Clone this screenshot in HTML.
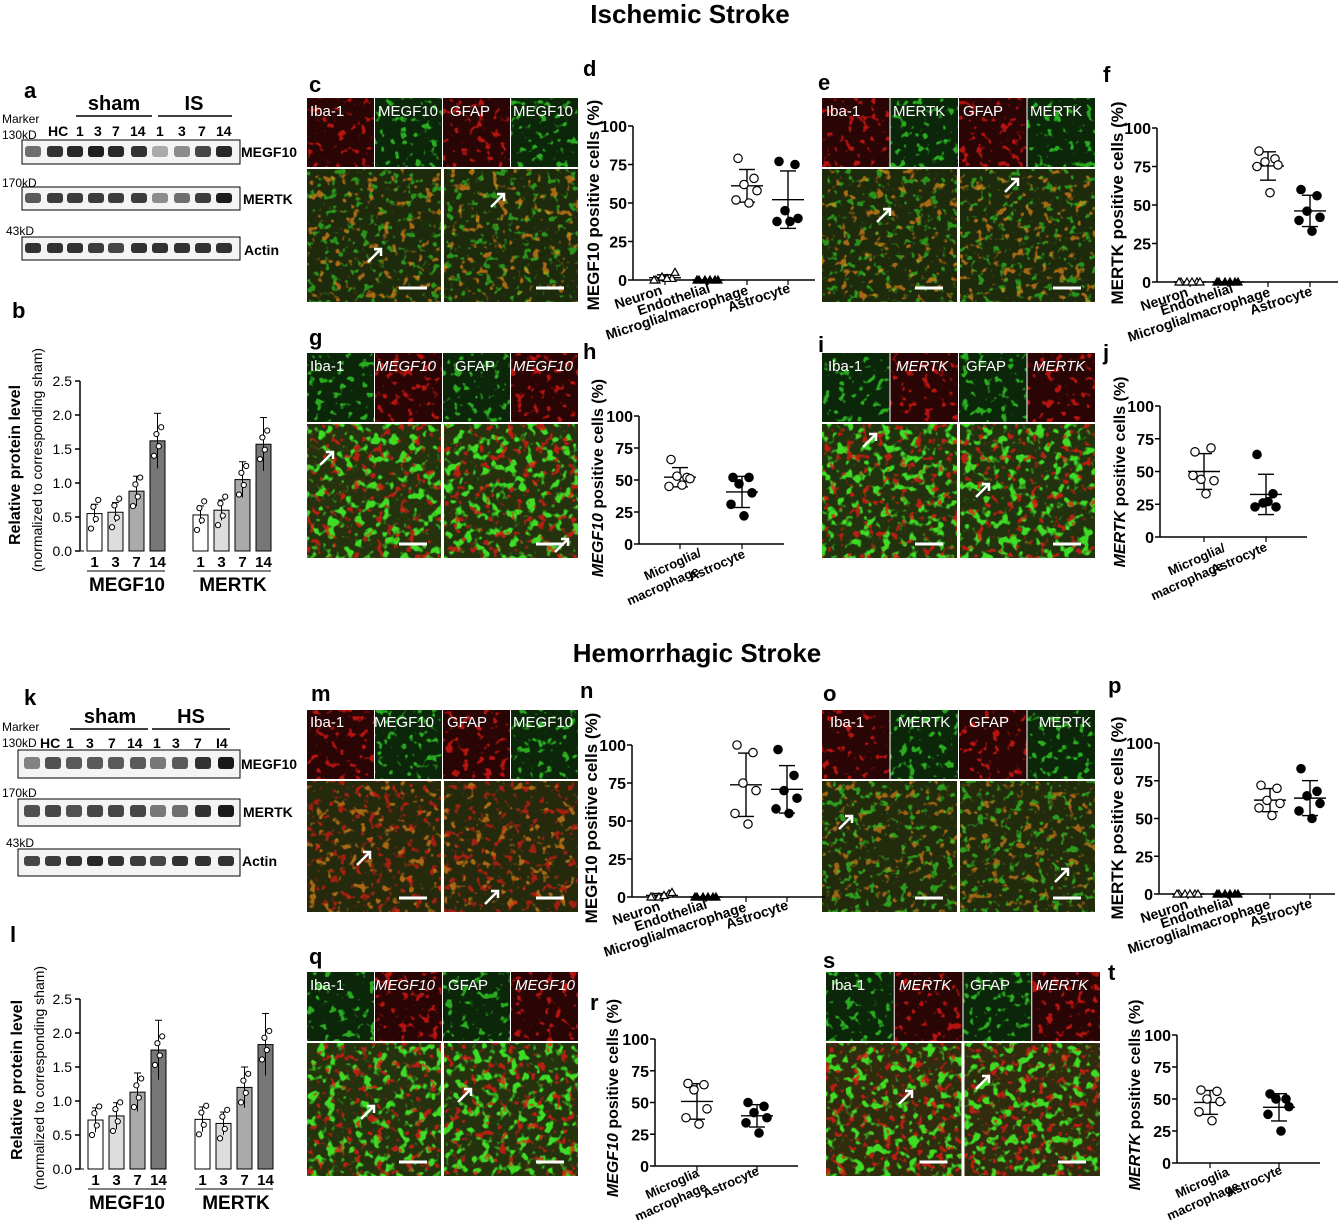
<!DOCTYPE html>
<html><head><meta charset="utf-8">
<style>
html,body{margin:0;padding:0;background:#fff;}
svg{display:block;font-family:"Liberation Sans",Arial,sans-serif;}
.t{font-weight:bold;font-size:26px;}
.L{font-weight:bold;font-size:22px;}
.lab{font-size:16px;font-weight:bold;}
.cat{font-size:14px;font-weight:bold;}
.cat2{font-size:13px;font-weight:bold;}
.sm{font-size:12px;}
.bl{font-size:14px;font-weight:bold;}
.img{font-size:15px;fill:#fff;}
</style></head><body>
<svg id="s" width="1341" height="1220" viewBox="0 0 1341 1220" xmlns="http://www.w3.org/2000/svg">
<defs>
<filter id="nR" x="0" y="0" width="100%" height="100%" color-interpolation-filters="sRGB"><feTurbulence type="fractalNoise" baseFrequency="0.13" numOctaves="2" seed="3"/><feColorMatrix values="0 0 0 0 0.9  0 0 0 0 0.1  0 0 0 0 0.08  0 0 0 9 -5.4"/></filter>
<filter id="nG" x="0" y="0" width="100%" height="100%" color-interpolation-filters="sRGB"><feTurbulence type="fractalNoise" baseFrequency="0.13" numOctaves="2" seed="7"/><feColorMatrix values="0 0 0 0 0.2  0 0 0 0 0.85  0 0 0 0 0.15  0 0 0 9 -5.4"/></filter>
<filter id="nGd" x="0" y="0" width="100%" height="100%" color-interpolation-filters="sRGB"><feTurbulence type="fractalNoise" baseFrequency="0.11" numOctaves="2" seed="5"/><feColorMatrix values="0 0 0 0 0.25  0 0 0 0 0.9  0 0 0 0 0.15  0 0 0 8 -4.3"/></filter>
<filter id="nY" x="0" y="0" width="100%" height="100%" color-interpolation-filters="sRGB"><feTurbulence type="fractalNoise" baseFrequency="0.12" numOctaves="2" seed="11"/><feColorMatrix values="0 0 0 0 0.95  0 0 0 0 0.55  0 0 0 0 0.1  0 0 0 9 -5.5"/></filter>
</defs>

<text class="t" x="690" y="23" text-anchor="middle">Ischemic Stroke</text>
<text class="t" x="697" y="662" text-anchor="middle">Hemorrhagic Stroke</text>

<g class="L">
<text x="24" y="98">a</text><text x="12" y="318">b</text><text x="309" y="92">c</text>
<text x="583" y="76">d</text><text x="818" y="90">e</text><text x="1103" y="82">f</text>
<text x="309" y="345">g</text><text x="583" y="359">h</text><text x="818" y="352">i</text>
<text x="1103" y="360">j</text><text x="24" y="705">k</text><text x="10" y="942">l</text>
<text x="311" y="701">m</text><text x="580" y="698">n</text><text x="823" y="701">o</text>
<text x="1108" y="693">p</text><text x="309" y="964">q</text><text x="590" y="1010">r</text>
<text x="823" y="968">s</text><text x="1108" y="980">t</text>
</g>

<g>
<text class="bl" x="114" y="110" text-anchor="middle" style="font-size:20px">sham</text>
<text class="bl" x="194" y="110" text-anchor="middle" style="font-size:20px">IS</text>
<line x1="76" y1="116" x2="152" y2="116" stroke="#000" stroke-width="1.5"/>
<line x1="158" y1="116" x2="232" y2="116" stroke="#000" stroke-width="1.5"/>
<text class="sm" x="2" y="123">Marker</text>
<text class="sm" x="2" y="139">130kD</text>
<text class="bl" x="48" y="136">HC</text><text class="bl" x="76" y="136">1</text><text class="bl" x="94" y="136">3</text><text class="bl" x="112" y="136">7</text><text class="bl" x="130" y="136">14</text><text class="bl" x="156" y="136">1</text><text class="bl" x="178" y="136">3</text><text class="bl" x="198" y="136">7</text><text class="bl" x="216" y="136">14</text>
<text class="sm" x="2" y="187">170kD</text>
<text class="sm" x="6" y="235">43kD</text>
<text class="bl" x="241" y="157">MEGF10</text>
<text class="bl" x="243" y="204">MERTK</text>
<text class="bl" x="244" y="255">Actin</text>
<rect x="22" y="140" width="218" height="24" fill="#f4f4f4" stroke="#000"/>
<rect x="22" y="187" width="218" height="23" fill="#f4f4f4" stroke="#000"/>
<rect x="22" y="237" width="218" height="23" fill="#f4f4f4" stroke="#000"/>
<g id="bandsA"></g>
</g>

<g>
<text class="bl" x="110" y="723" text-anchor="middle" style="font-size:20px">sham</text>
<text class="bl" x="191" y="723" text-anchor="middle" style="font-size:20px">HS</text>
<line x1="70" y1="729" x2="148" y2="729" stroke="#000" stroke-width="1.5"/>
<line x1="152" y1="729" x2="230" y2="729" stroke="#000" stroke-width="1.5"/>
<text class="sm" x="2" y="731">Marker</text>
<text class="sm" x="2" y="747">130kD</text>
<text class="bl" x="40" y="748">HC</text><text class="bl" x="66" y="748">1</text><text class="bl" x="86" y="748">3</text><text class="bl" x="108" y="748">7</text><text class="bl" x="127" y="748">14</text><text class="bl" x="153" y="748">1</text><text class="bl" x="172" y="748">3</text><text class="bl" x="194" y="748">7</text><text class="bl" x="216" y="748">I4</text>
<text class="sm" x="2" y="797">170kD</text>
<text class="sm" x="6" y="847">43kD</text>
<text class="bl" x="241" y="769">MEGF10</text>
<text class="bl" x="243" y="817">MERTK</text>
<text class="bl" x="242" y="866">Actin</text>
<rect x="18" y="750" width="222" height="28" fill="#f4f4f4" stroke="#000"/>
<rect x="18" y="799" width="222" height="27" fill="#f4f4f4" stroke="#000"/>
<rect x="18" y="849" width="222" height="27" fill="#f4f4f4" stroke="#000"/>
<g id="bandsK"></g>
</g>

<text class="lab" transform="translate(20,465) rotate(-90)" text-anchor="middle">Relative protein level</text>
<text transform="translate(42,460) rotate(-90)" text-anchor="middle" style="font-size:14px">(normalized to corresponding sham)</text>
<text class="bl" x="127" y="591" text-anchor="middle" style="font-size:19px">MEGF10</text>
<text class="bl" x="233" y="591" text-anchor="middle" style="font-size:19px">MERTK</text>
<text class="lab" transform="translate(22,1080) rotate(-90)" text-anchor="middle">Relative protein level</text>
<text transform="translate(44,1078) rotate(-90)" text-anchor="middle" style="font-size:14px">(normalized to corresponding sham)</text>
<text class="bl" x="127" y="1209" text-anchor="middle" style="font-size:19px">MEGF10</text>
<text class="bl" x="236" y="1209" text-anchor="middle" style="font-size:19px">MERTK</text>

<text class="lab" transform="translate(599,205) rotate(-90)" text-anchor="middle" style="font-size:17px">MEGF10 positive cells (%)</text>
<text class="lab" transform="translate(1123,203) rotate(-90)" text-anchor="middle" style="font-size:17px">MERTK positive cells (%)</text>
<text class="lab" transform="translate(603,478) rotate(-90)" text-anchor="middle"><tspan font-style="italic">MEGF10</tspan> positive cells (%)</text>
<text class="lab" transform="translate(1125,472) rotate(-90)" text-anchor="middle"><tspan font-style="italic">MERTK</tspan> positive cells (%)</text>
<text class="lab" transform="translate(597,818) rotate(-90)" text-anchor="middle" style="font-size:17px">MEGF10 positive cells (%)</text>
<text class="lab" transform="translate(1123,818) rotate(-90)" text-anchor="middle" style="font-size:17px">MERTK positive cells (%)</text>
<text class="lab" transform="translate(618,1098) rotate(-90)" text-anchor="middle"><tspan font-style="italic">MEGF10</tspan> positive cells (%)</text>
<text class="lab" transform="translate(1140,1095) rotate(-90)" text-anchor="middle"><tspan font-style="italic">MERTK</tspan> positive cells (%)</text>

<g class="cat">
<text transform="translate(663,294) rotate(-18)" text-anchor="end">Neuron</text>
<text transform="translate(711,292) rotate(-18)" text-anchor="end">Endothelial</text>
<text transform="translate(749,294) rotate(-18)" text-anchor="end">Microglia/macrophage</text>
<text transform="translate(791,292) rotate(-18)" text-anchor="end">Astrocyte</text>

<text transform="translate(1189,296) rotate(-18)" text-anchor="end">Neuron</text>
<text transform="translate(1234,292) rotate(-18)" text-anchor="end">Endothelial</text>
<text transform="translate(1271,296) rotate(-18)" text-anchor="end">Microglia/macrophage</text>
<text transform="translate(1313,295) rotate(-18)" text-anchor="end">Astrocyte</text>

<text transform="translate(661,910) rotate(-18)" text-anchor="end">Neuron</text>
<text transform="translate(708,908) rotate(-18)" text-anchor="end">Endothelial</text>
<text transform="translate(747,911) rotate(-18)" text-anchor="end">Microglia/macrophage</text>
<text transform="translate(789,909) rotate(-18)" text-anchor="end">Astrocyte</text>

<text transform="translate(1189,908) rotate(-18)" text-anchor="end">Neuron</text>
<text transform="translate(1234,905) rotate(-18)" text-anchor="end">Endothelial</text>
<text transform="translate(1271,908) rotate(-18)" text-anchor="end">Microglia/macrophage</text>
<text transform="translate(1313,907) rotate(-18)" text-anchor="end">Astrocyte</text>
</g>
<g class="cat2">
<text transform="translate(702,556) rotate(-24)" text-anchor="end">Microglia/</text>
<text transform="translate(700,574) rotate(-24)" text-anchor="end">macrophage</text>
<text transform="translate(746,557) rotate(-24)" text-anchor="end">Astrocyte</text>

<text transform="translate(1226,551) rotate(-24)" text-anchor="end">Microglia/</text>
<text transform="translate(1224,569) rotate(-24)" text-anchor="end">macrophage</text>
<text transform="translate(1268,550) rotate(-24)" text-anchor="end">Astrocyte</text>

<text transform="translate(700,1176) rotate(-24)" text-anchor="end">Microglia</text>
<text transform="translate(708,1190) rotate(-24)" text-anchor="end">macrophage</text>
<text transform="translate(760,1174) rotate(-24)" text-anchor="end">Astrocyte</text>

<text transform="translate(1230,1175) rotate(-24)" text-anchor="end">Microglia</text>
<text transform="translate(1240,1189) rotate(-24)" text-anchor="end">macrophage</text>
<text transform="translate(1283,1173) rotate(-24)" text-anchor="end">Astrocyte</text>
</g>

<g id="imgs"></g>
<g id="charts"></g>

<g class="img">
<text x="310" y="116">Iba-1</text><text x="378" y="116">MEGF10</text><text x="450" y="116">GFAP</text><text x="513" y="116">MEGF10</text>
<text x="826" y="116">Iba-1</text><text x="893" y="116">MERTK</text><text x="963" y="116">GFAP</text><text x="1030" y="116">MERTK</text>
<text x="310" y="371">Iba-1</text><text x="376" y="371" font-style="italic">MEGF10</text><text x="455" y="371">GFAP</text><text x="513" y="371" font-style="italic">MEGF10</text>
<text x="828" y="371">Iba-1</text><text x="896" y="371" font-style="italic">MERTK</text><text x="966" y="371">GFAP</text><text x="1033" y="371" font-style="italic">MERTK</text>
<text x="310" y="727">Iba-1</text><text x="374" y="727">MEGF10</text><text x="447" y="727">GFAP</text><text x="513" y="727">MEGF10</text>
<text x="830" y="727">Iba-1</text><text x="898" y="727">MERTK</text><text x="969" y="727">GFAP</text><text x="1039" y="727">MERTK</text>
<text x="310" y="990">Iba-1</text><text x="375" y="990" font-style="italic">MEGF10</text><text x="448" y="990">GFAP</text><text x="515" y="990" font-style="italic">MEGF10</text>
<text x="831" y="990">Iba-1</text><text x="899" y="990" font-style="italic">MERTK</text><text x="970" y="990">GFAP</text><text x="1036" y="990" font-style="italic">MERTK</text>
</g>
<g id="over"></g>
</svg>
<script>
var NS="http://www.w3.org/2000/svg";
function el(p,t,a){var e=document.createElementNS(NS,t);for(var k in a)e.setAttribute(k,a[k]);p.appendChild(e);return e;}
var C=document.getElementById('charts'),I=document.getElementById('imgs'),O=document.getElementById('over');
function bands(g,xs,rows){rows.forEach(function(r){xs.forEach(function(x,i){var d=r.d[i];el(g,'rect',{x:x-8,y:r.y,width:16,height:r.h,rx:3,fill:'rgb('+d+','+d+','+d+')'});});});}
var xa=[33,55,75,96,116,139,160,182,203,224];
bands(document.getElementById('bandsA'),xa,[
{y:146,h:11,d:[110,50,40,30,40,50,170,140,70,40]},
{y:193,h:10,d:[90,60,60,60,60,60,140,110,60,30]},
{y:243,h:10,d:[50,50,50,60,70,50,50,50,50,50]}]);
var xk=[32,53,74,95,116,138,158,180,203,226];
bands(document.getElementById('bandsK'),xk,[
{y:757,h:12,d:[130,80,90,90,90,90,120,90,50,25]},
{y:805,h:12,d:[80,70,80,70,70,70,120,110,50,25]},
{y:856,h:10,d:[70,60,50,40,50,60,70,50,50,50]}]);

function tile(x,y,w,h,col,f){el(I,'rect',{x:x,y:y,width:w,height:h,fill:col});el(I,'rect',{x:x,y:y,width:w,height:h,fill:'#fff',filter:'url(#'+f+')',opacity:0.75});}
function panel(x,y,w,h,top,merge,o1,o2){var tw=(w-3)/4,th=69;
 top.forEach(function(c,i){tile(x+i*(tw+1),y,tw,th,c=='r'?'#2a0505':'#0c260a',c=='r'?'nR':'nG');});
 var bh=h-th-2,bw=(w-3)/2;
 for(var i=0;i<2;i++){var bx=x+i*(bw+3),by=y+th+2;
  el(I,'rect',{x:bx,y:by,width:bw,height:bh,fill:merge[0]});
  el(I,'rect',{x:bx,y:by,width:bw,height:bh,fill:'#fff',filter:'url(#'+merge[1]+')',opacity:o1});
  el(I,'rect',{x:bx,y:by,width:bw,height:bh,fill:'#fff',filter:'url(#'+merge[2]+')',opacity:o2});
  el(O,'line',{x1:bx+bw-42,y1:by+bh-14,x2:bx+bw-14,y2:by+bh-14,stroke:'#fff','stroke-width':3});
 }}
panel(307,98,271,204,['r','g','r','g'],['#1e2a0c','nG','nY'],0.6,0.65);
panel(822,98,273,204,['r','g','r','g'],['#1e2a0c','nG','nY'],0.6,0.65);
panel(307,353,271,205,['g','r','g','r'],['#24320e','nGd','nR'],0.95,0.75);
panel(822,353,273,205,['g','r','g','r'],['#22320e','nGd','nR'],0.95,0.75);
panel(307,710,271,202,['r','g','r','g'],['#262a0c','nY','nR'],0.65,0.65);
panel(822,710,273,202,['r','g','r','g'],['#222c0c','nY','nG'],0.6,0.65);
panel(307,972,271,204,['g','r','g','r'],['#24320e','nGd','nR'],0.95,0.75);
panel(826,972,274,204,['g','r','g','r'],['#302c0e','nGd','nR'],0.95,0.75);
[[375,255],[498,200],[884,215],[1012,185],[327,458],[562,545],[870,440],[983,490],[364,858],[492,897],[846,822],[1062,875],[368,1112],[465,1095],[906,1097],[983,1082]].forEach(function(p){
 el(O,'path',{d:'M'+(p[0]-7)+' '+(p[1]+7)+'L'+(p[0]+6)+' '+(p[1]-6)+'M'+(p[0]-1)+' '+(p[1]-6)+'L'+(p[0]+6)+' '+(p[1]-6)+'L'+(p[0]+6)+' '+(p[1]+1),stroke:'#fff','stroke-width':2.5,fill:'none'});});

function scatter(ax,y0,y100,xe,cats){
 el(C,'line',{x1:ax,y1:y100,x2:ax,y2:y0,stroke:'#000','stroke-width':1.5});
 el(C,'line',{x1:ax,y1:y0,x2:xe,y2:y0,stroke:'#000','stroke-width':1.5});
 [0,25,50,75,100].forEach(function(v){var y=y0-(y0-y100)*v/100;
  el(C,'line',{x1:ax-5,y1:y,x2:ax,y2:y,stroke:'#000','stroke-width':1.5});
  var t=el(C,'text',{x:ax-6,y:y+6,'text-anchor':'end','font-size':16,'font-weight':'bold'});t.textContent=v;});
 cats.forEach(function(c){
  el(C,'line',{x1:c.x,y1:y0,x2:c.x,y2:y0+5,stroke:'#000','stroke-width':1.2});
  var vs=c.v,m=vs.reduce(function(a,b){return a+b},0)/vs.length;
  var sd=Math.sqrt(vs.reduce(function(a,b){return a+(b-m)*(b-m)},0)/(vs.length-1));
  var s=(y0-y100)/100,ym=y0-m*s;
  el(C,'line',{x1:c.x-16,y1:ym,x2:c.x+16,y2:ym,stroke:'#000','stroke-width':1.4});
  if(sd>0.5){el(C,'line',{x1:c.x,y1:ym-sd*s,x2:c.x,y2:ym+sd*s,stroke:'#000','stroke-width':1.4});
   [ym-sd*s,ym+sd*s].forEach(function(yy){el(C,'line',{x1:c.x-8,y1:yy,x2:c.x+8,y2:yy,stroke:'#000','stroke-width':1.4});});}
  var off=[-9,7,-3,10,-11,2];
  vs.forEach(function(v,i){var x=c.x+off[i],y=y0-v*s,f=c.t[0]=='f'?'#000':'#fff';
   if(c.t[1]=='c')el(C,'circle',{cx:x,cy:y,r:4.2,fill:f,stroke:'#000','stroke-width':1.2});
   else el(C,'path',{d:'M'+x+' '+(y-4)+'L'+(x+4)+' '+(y+3)+'L'+(x-4)+' '+(y+3)+'Z',fill:f,stroke:'#000','stroke-width':1.2});});
 });}
var Z=[0,0,0,0,0,0];
scatter(633,280,126,815,[{x:665,v:[0,1,2,5,0,1],t:'ot'},{x:708,v:Z,t:'ft'},{x:747,v:[79,66,62,58,52,50],t:'oc'},{x:788,v:[77,75,45,40,38,38],t:'fc'}]);
scatter(1157,282,128,1338,[{x:1190,v:Z,t:'ot'},{x:1228,v:Z,t:'ft'},{x:1268,v:[85,80,78,76,75,58],t:'oc'},{x:1310,v:[60,56,46,42,40,33],t:'fc'}]);
scatter(639,544,416,784,[{x:680,v:[66,52,53,51,45,46],t:'oc'},{x:742,v:[52,52,47,40,31,22],t:'fc'}]);
scatter(1160,537,406,1307,[{x:1204,v:[65,68,44,43,47,33],t:'oc'},{x:1266,v:[63,33,26,23,23,27],t:'fc'}]);
scatter(632,897,745,825,[{x:662,v:[0,2,0,3,0,1],t:'ot'},{x:706,v:Z,t:'ft'},{x:746,v:[100,95,75,70,55,48],t:'oc'},{x:787,v:[97,80,70,65,58,55],t:'fc'}]);
scatter(1159,894,743,1335,[{x:1188,v:Z,t:'ot'},{x:1228,v:Z,t:'ft'},{x:1270,v:[72,70,62,60,57,52],t:'oc'},{x:1310,v:[83,68,65,60,55,50],t:'fc'}]);
scatter(655,1166,1039,798,[{x:697,v:[65,64,60,45,38,33],t:'oc'},{x:757,v:[50,47,42,38,34,26],t:'fc'}]);
scatter(1177,1163,1035,1320,[{x:1210,v:[57,56,50,48,40,33],t:'oc'},{x:1279,v:[54,50,50,44,38,25],t:'fc'}]);

function bars(ax,y0,ytop,groups){var s=(y0-ytop)/2.5;
 el(C,'line',{x1:ax,y1:ytop,x2:ax,y2:y0,stroke:'#000','stroke-width':1.5});
 [0,0.5,1,1.5,2,2.5].forEach(function(v){var y=y0-v*s;el(C,'line',{x1:ax-5,y1:y,x2:ax,y2:y,stroke:'#000','stroke-width':1.5});
  var t=el(C,'text',{x:ax-8,y:y+5,'text-anchor':'end','font-size':14});t.textContent=v.toFixed(1);});
 var fills=['#fff','#ddd','#aaa','#777'],lab=['1','3','7','14'];
 groups.forEach(function(g){g.v.forEach(function(v,i){var x=g.x+i*21,h=v*s;
  el(C,'rect',{x:x,y:y0-h,width:15,height:h,fill:fills[i],stroke:'#000','stroke-width':1});
  var e=v*0.25;el(C,'line',{x1:x+7.5,y1:y0-h-e*s,x2:x+7.5,y2:y0-h+e*s,stroke:'#000'});
  el(C,'line',{x1:x+4,y1:y0-h-e*s,x2:x+11,y2:y0-h-e*s,stroke:'#000'});
  [-0.22,0.1,-0.08,0.2].forEach(function(d,j){el(C,'circle',{cx:x+4+j*2.4,cy:y0-(v+d)*s,r:2.6,fill:'#fff',stroke:'#000'});});
  var t=el(C,'text',{x:x+7.5,y:y0+16,'text-anchor':'middle','font-size':15,'font-weight':'bold'});t.textContent=lab[i];});
  el(C,'line',{x1:g.x,y1:y0+20,x2:g.x+78,y2:y0+20,stroke:'#000'});});
 el(C,'line',{x1:ax,y1:y0,x2:ax+4,y2:y0,stroke:'#000'});}
bars(80,551,381,[{x:87,v:[0.55,0.57,0.88,1.62]},{x:193,v:[0.53,0.6,1.05,1.57]}]);
bars(80,1169,999,[{x:88,v:[0.72,0.78,1.13,1.75]},{x:195,v:[0.73,0.67,1.2,1.83]}]);
</script>
</body></html>
